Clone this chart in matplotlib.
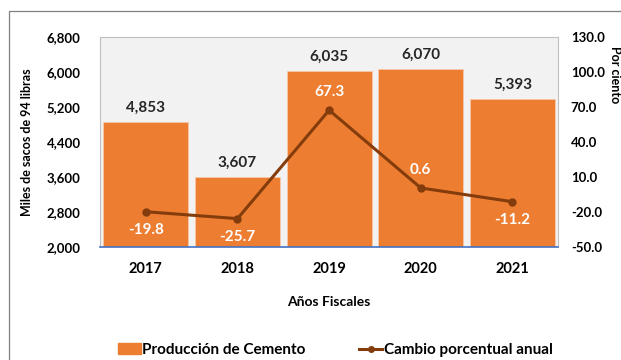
import matplotlib
matplotlib.use("Agg")
from matplotlib import pyplot as plt
from matplotlib.patches import Rectangle

plt.rcParams["font.family"] = ["Lato", "DejaVu Sans"]
plt.rcParams["font.weight"] = "bold"
plt.rcParams["axes.labelweight"] = "bold"

# Data
years = ["2017", "2018", "2019", "2020", "2021"]
production = [4853, 3607, 6035, 6070, 5393]
pct_change = [-19.8, -25.7, 67.3, 0.6, -11.2]
label_above = [False, False, True, True, False]

bar_color = "#ED7D31"
line_color = "#843C0C"

fig = plt.figure(figsize=(6.21, 3.6), dpi=100)
ax = fig.add_axes([0.161, 0.314, 0.738, 0.583])
ax.set_facecolor("#F2F2F2")

# outer frame (only left and top edges visible)
fig.patches.append(Rectangle((9 / 621, -0.1), 1.2, 1.1 - 11 / 360,
                             transform=fig.transFigure, fill=False,
                             edgecolor="#7F7F7F", linewidth=0.9))

x = list(range(len(years)))
ax.bar(x, production, width=0.93, color=bar_color,
       edgecolor="#F8CBAD", linewidth=0.5, zorder=2)
ax.set_ylim(2000, 6800)
ax.set_yticks(range(2000, 6801, 800))
ax.set_yticklabels([f"{v:,}" for v in range(2000, 6801, 800)], fontsize=9.5)
ax.set_xlim(-0.5, len(years) - 0.5)
ax.set_xticks(x)
ax.set_xticklabels(years, fontsize=10.5)
ax.tick_params(axis="x", length=0, pad=11)
ax.tick_params(axis="y", length=0, pad=14)
for s in ["top", "left", "right"]:
    ax.spines[s].set_color("#BFBFBF")
ax.spines["bottom"].set_color("#4472C4")
ax.spines["bottom"].set_linewidth(1.2)

for xi, v in zip(x, production):
    ax.annotate(f"{v:,}", (xi, v), xytext=(0, 5), textcoords="offset points",
                ha="center", va="bottom", fontsize=11, color="#262626")

ax.set_ylabel("Miles de sacos de 94 libras", fontsize=9, labelpad=10)
ax.set_xlabel("Años Fiscales", fontsize=10, labelpad=14)

ax2 = ax.twinx()
ax2.plot(x, pct_change, color=line_color, linewidth=2.2, marker="o",
         markersize=5, zorder=3)
ax2.set_ylim(-50, 130)
ax2.set_yticks(range(-50, 131, 30))
ax2.set_yticklabels([f"{v:.1f}" for v in range(-50, 131, 30)], fontsize=9.5)
ax2.tick_params(length=0, pad=9)
for s in ax2.spines.values():
    s.set_visible(False)
ax2.set_ylabel("Por ciento", fontsize=9, rotation=270, va="center")
ax2.yaxis.set_label_coords(1.124, 0.82)

for xi, v, up in zip(x, pct_change, label_above):
    off = 8 if up else -8
    ax2.annotate(f"{v:.1f}", (xi, v), xytext=(0, off), textcoords="offset points",
                 ha="center", va="bottom" if up else "top",
                 fontsize=11, color="white")

h1 = Rectangle((0, 0), 1, 1, color=bar_color)
h2 = plt.Line2D([], [], color=line_color, linewidth=2.2, marker="o", markersize=4)
fig.legend([h1, h2], ["Producción de Cemento", "Cambio porcentual anual"],
           loc="center", bbox_to_anchor=(0.54, 0.028), ncol=2, frameon=False,
           fontsize=11, handlelength=1.5, handletextpad=0.1, columnspacing=3.5)

fig.savefig("out.png", dpi=100)
